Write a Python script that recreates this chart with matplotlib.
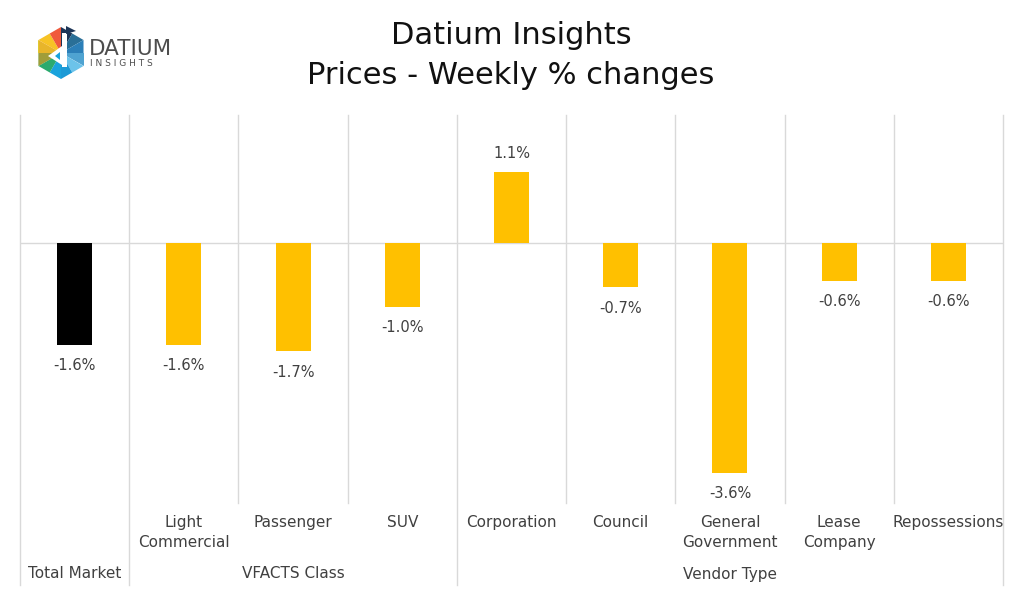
import matplotlib
matplotlib.use("Agg")
import matplotlib.pyplot as plt
import matplotlib.transforms as mtransforms
from matplotlib.patches import Polygon, Rectangle
from matplotlib.lines import Line2D
import math

# ---------------- data ----------------
categories = ["Total Market", "Light\nCommercial", "Passenger", "SUV",
              "Corporation", "Council", "General\nGovernment", "Lease\nCompany",
              "Repossessions"]
show_upper = [False, True, True, True, True, True, True, True, True]
values = [-1.6, -1.6, -1.7, -1.0, 1.1, -0.7, -3.6, -0.6, -0.6]
value_labels = ["-1.6%", "-1.6%", "-1.7%", "-1.0%", "1.1%", "-0.7%", "-3.6%", "-0.6%", "-0.6%"]
groups = ["Total Market", "VFACTS Class", "Vendor Type"]
group_start = [0, 1, 4]
group_end = [0, 3, 8]
bar_colors = ["#000000"] + ["#FFC000"] * 8

W, H = 1024, 594
fig = plt.figure(figsize=(W / 100, H / 100), dpi=100)
plt.rcParams['font.family'] = ['DejaVu Sans']

def fx(p):
    return p / W

def fy(p):
    return 1 - p / H

ax_left, ax_right, ax_top, ax_bot = 20, 1003, 114.5, 503
ax = fig.add_axes([fx(ax_left), fy(ax_bot), fx(ax_right - ax_left), (ax_bot - ax_top) / H])
n = len(categories)
x = list(range(n))
ax.bar(x, values, width=0.32, color=bar_colors, zorder=3)
ax.set_xlim(-0.5, n - 0.5)
ax.set_ylim(-4.07, 2.0)
ax.axis("off")
grid_c = "#D9D9D9"
ax.axhline(0, color=grid_c, lw=1.0, zorder=1)

label_c = "#404040"
for xi, v, lab in zip(x, values, value_labels):
    if v >= 0:
        ax.annotate(lab, (xi, v), xytext=(0, 8), textcoords="offset points",
                    ha="center", va="bottom", fontsize=10.5, color=label_c)
    else:
        ax.annotate(lab, (xi, v), xytext=(0, -9.5), textcoords="offset points",
                    ha="center", va="top", fontsize=10.5, color=label_c)

# vertical separators
trans = mtransforms.blended_transform_factory(ax.transData, fig.transFigure)
group_bounds = set([group_start[0] - 0.5] + [e + 0.5 for e in group_end])
for b in [k - 0.5 for k in range(n + 1)]:
    y_end = 585 if b in group_bounds else ax_bot
    fig.add_artist(Line2D([b, b], [fy(ax_top), fy(y_end)], transform=trans,
                          color=grid_c, lw=1.0, clip_on=False))

# category labels
for xi, cat, up in zip(x, categories, show_upper):
    if up:
        fig.text(xi, fy(515), cat, transform=trans, ha="center", va="top",
                 fontsize=11, color=label_c, linespacing=1.45)

for g, s, e in zip(groups, group_start, group_end):
    fig.text((s + e) / 2, fy(574), g, transform=trans, ha="center", va="center",
             fontsize=11, color=label_c)

# title
fig.text(fx(511), fy(35), "Datium Insights", ha="center", va="center", fontsize=22, color="#111111")
fig.text(fx(511), fy(75), "Prices - Weekly % changes", ha="center", va="center", fontsize=22, color="#111111")

# ---------------- logo ----------------
lax = fig.add_axes([fx(30), fy(95), fx(160), 75 / H])
lax.set_xlim(30, 190)
lax.set_ylim(95, 20)
lax.axis("off")
cx, cy, r = 61, 53, 26
verts = [(cx + r * math.cos(math.radians(a)), cy + r * math.sin(math.radians(a)))
         for a in (-90, -30, 30, 90, 150, 210)]
sector_cols = [
    ("#1D3557", "#2A6F97"),
    ("#2C7FB8", "#4FA3D1"),
    ("#6CC3EA", "#1C9AD6"),
    ("#1AA3DC", "#2BAA6E"),
    ("#3AAA5C", "#D6DE3A"),
    ("#F7C325", "#F05A3C"),
]
for i in range(6):
    a = verts[i]
    b = verts[(i + 1) % 6]
    m = ((a[0] + b[0]) / 2, (a[1] + b[1]) / 2)
    c1, c2 = sector_cols[i]
    lax.add_patch(Polygon([(cx, cy), a, m], closed=True, color=c1, lw=0))
    lax.add_patch(Polygon([(cx, cy), m, b], closed=True, color=c2, lw=0))
lax.add_patch(Polygon([verts[5], (cx, cy), verts[4]], closed=True, color="#F7941D", lw=0, alpha=0.55))
lax.add_patch(Polygon([(cx - 13, cy + 3), (cx + 1, cy - 7), (cx + 1, cy + 12)], closed=True,
                      color="white", lw=0))
lax.add_patch(Polygon([(cx - 6, cy + 3), (cx - 1, cy - 1), (cx - 1, cy + 7)], closed=True,
                      color="#1AA3DC", lw=0))
lax.add_patch(Rectangle((cx + 1, cy - 20), 5, 34, color="white", lw=0))
lax.add_patch(Polygon([(cx + 5, cy - 27), (cx + 15, cy - 22), (cx + 5, cy - 19)], closed=True,
                      color="#1D3557", lw=0))
lax.text(89, 49, "DATIUM", ha="left", va="center", fontsize=15.5, color="#4D4D4D")
lax.text(90, 63.5, "I N S I G H T S", ha="left", va="center", fontsize=6.5, color="#4D4D4D")

fig.savefig("out.png", dpi=100, facecolor="white")
